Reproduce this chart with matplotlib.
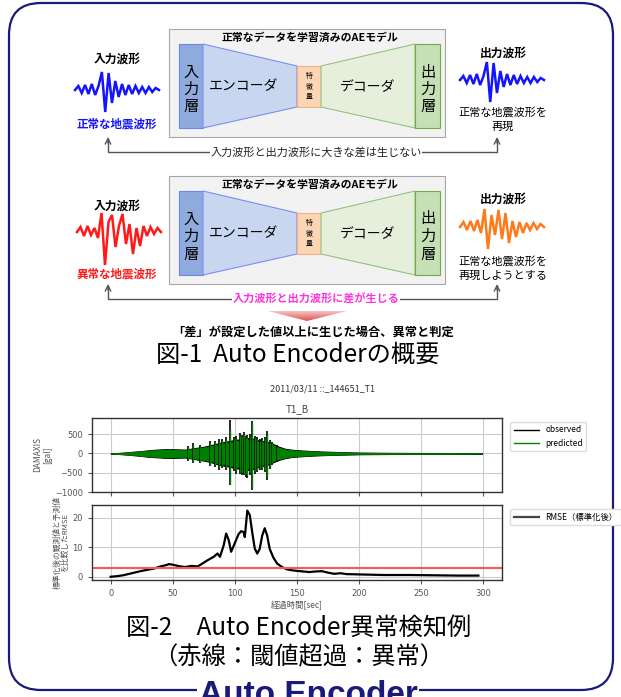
import numpy as np
import matplotlib
matplotlib.use('Agg')
import matplotlib.pyplot as plt
from matplotlib.patches import Rectangle, Polygon, FancyBboxPatch

plt.rcParams['font.family'] = ['Noto Sans CJK JP', 'DejaVu Sans']

# ---- data ----
# schematic waveform icons (vertical offsets, px, up positive)
wave_normal = [0, 4, -3, 5, -4, 6, -5, 4, 18, -22, 17, -13, 9, -7, 6, -5, 5, -4, 4, -3, 3, -3, 3, -2, 2, 0]
wave_abnormal = [0, 5, -4, 6, -3, 4, -6, 19, -33, 10, 17, -15, 6, 18, -12, 8, -22, 4, -14, 6, -4, 5, -2, 4, 0]
wave_recon = [0, 5, -3, 6, -4, 7, -6, 18, -22, 12, -8, 17, -12, 14, -16, 6, -10, 5, -6, 4, -3, 4, -2, 3, 0]

# observed / predicted acceleration envelope [gal]
env_t = [0, 5, 10, 15, 20, 25, 30, 35, 40, 45, 50, 55, 60, 65, 70, 75, 80, 85, 90, 95, 100,
         105, 110, 115, 120, 125, 130, 135, 140, 145, 150, 160, 170, 180, 190, 200, 225, 250, 275, 299]
obs_hi = [0, 10, 22, 35, 50, 62, 80, 95, 105, 110, 110, 105, 100, 125, 150, 175, 210, 250, 290, 320, 350,
          370, 400, 380, 330, 310, 260, 180, 125, 100, 85, 65, 50, 40, 30, 22, 15, 12, 10, 6]
obs_lo = [0, -10, -22, -35, -50, -65, -85, -95, -105, -115, -115, -110, -105, -130, -160, -185, -220, -270, -310, -340, -380,
          -400, -430, -400, -340, -310, -240, -170, -125, -95, -80, -60, -45, -35, -28, -20, -14, -11, -9, -6]
pred_hi = [0, 9, 20, 32, 45, 58, 72, 85, 95, 100, 100, 95, 92, 112, 135, 158, 190, 225, 260, 290, 315,
           335, 360, 345, 300, 280, 230, 158, 110, 88, 75, 58, 45, 36, 27, 20, 13, 10, 8, 0]
pred_lo = [0, -9, -20, -32, -45, -60, -78, -86, -95, -104, -104, -100, -95, -118, -145, -168, -200, -245, -280, -305, -345,
           -360, -390, -365, -305, -280, -215, -152, -112, -86, -72, -54, -41, -32, -25, -18, -12, -10, -8, 0]
spk_t = [62, 66, 72, 80, 84, 87, 90, 93, 96, 99, 101, 104, 106, 107, 109, 110, 112,
         114, 116, 118, 120, 122, 124, 126, 128, 130, 134]
spk_hi = [200, 270, 220, 320, 330, 370, 380, 420, 870, 420, 450, 520, 480, 560, 460, 480, 500,
          830, 450, 430, 380, 400, 420, 590, 360, 300, 220]
spk_lo = [-200, -260, -250, -330, -340, -420, -380, -440, -830, -450, -520, -520, -560, -560, -600, -640, -560,
          -950, -520, -480, -430, -440, -480, -700, -400, -300, -210]
pspk_hi = [170, 230, 200, 280, 290, 320, 330, 370, 640, 370, 390, 450, 420, 500, 400, 420, 440,
           820, 390, 380, 330, 350, 370, 500, 310, 260, 180]
pspk_lo = [-170, -230, -215, -290, -300, -360, -330, -390, -780, -400, -450, -470, -490, -520, -530, -560, -490,
           -900, -460, -420, -380, -390, -420, -600, -350, -260, -180]

# RMSE (standardised)
rmse_t = [0, 5, 10, 15, 20, 25, 30, 35, 40, 45, 47, 50, 55, 60, 65, 70, 72, 78, 83, 86, 88, 91, 93, 95, 97,
          100, 103, 105, 107, 108, 110, 112, 114, 116, 118, 120, 122, 124, 126, 128, 131, 134, 138, 142, 146,
          150, 155, 160, 165, 170, 175, 180, 185, 190, 200, 220, 240, 260, 280, 296]
rmse_v = [0, 0.2, 0.5, 1.0, 1.5, 2.0, 2.4, 2.8, 3.5, 4.0, 4.3, 4.1, 3.6, 3.3, 3.7, 3.5, 4.0, 5.6, 6.8, 7.9, 6.8, 10.7, 14.7, 12.5, 8.5,
          11.5, 14.5, 15.5, 15.2, 13.5, 22.5, 21.0, 15.0, 9.6, 7.9, 9.5, 14.0, 16.5, 14.0, 9.5, 6.5, 4.5, 3.3, 2.5, 2.2,
          2.0, 1.8, 1.6, 1.8, 1.9, 1.4, 1.0, 1.2, 0.9, 0.8, 0.6, 0.6, 0.5, 0.4, 0.4]
threshold = 3.0
xticks = [0, 50, 100, 150, 200, 250, 300]

navy = '#1a1a7a'

fig = plt.figure(figsize=(6.21, 6.97), dpi=100)
bg = fig.add_axes([0, 0, 1, 1])
bg.set_xlim(0, 621)
bg.set_ylim(697, 0)
bg.axis('off')

# outer rounded frame
bg.add_patch(FancyBboxPatch((9, 3), 604, 687, boxstyle='round,pad=0,rounding_size=32',
                            fc='none', ec=navy, lw=1.6, zorder=1))
bg.text(308, 704, 'Auto Encoder', family='Liberation Sans', weight='bold', fontsize=24,
        color=navy, ha='center', va='baseline', zorder=3,
        bbox=dict(fc='white', ec='none', pad=1))


def draw_model(oy):
    bg.add_patch(Rectangle((169, 29 + oy), 276, 108, fc='#f2f2f2', ec='#a6a6a6', lw=0.8))
    bg.text(310, 38 + oy, '正常なデータを学習済みのAEモデル', fontsize=7.8, weight='bold',
            ha='center', va='center')
    bg.add_patch(Rectangle((179, 44 + oy), 24, 84, fc='#8faadc', ec='#6c86e8', lw=0.8))
    bg.add_patch(Polygon([(203, 44 + oy), (297, 66 + oy), (297, 107 + oy), (203, 128 + oy)],
                         fc='#c9d6f0', ec='#7b8ff0', lw=0.8))
    bg.add_patch(Rectangle((297, 66 + oy), 24, 41, fc='#fcd5b4', ec='#f4b183', lw=0.8))
    bg.add_patch(Polygon([(321, 66 + oy), (415, 44 + oy), (415, 128 + oy), (321, 107 + oy)],
                         fc='#e6eedc', ec='#93c47d', lw=0.8))
    bg.add_patch(Rectangle((415, 44 + oy), 25, 84, fc='#c5e0b4', ec='#70ad47', lw=0.8))
    for i, ch in enumerate('入力層'):
        bg.text(191, 72 + oy + 17.5 * i, ch, fontsize=11, ha='center', va='center')
    for i, ch in enumerate('出力層'):
        bg.text(428, 72 + oy + 17.5 * i, ch, fontsize=11, ha='center', va='center')
    for i, ch in enumerate('特徴量'):
        bg.text(309, 76 + oy + 10.5 * i, ch, fontsize=5, ha='center', va='center')
    bg.text(243, 86 + oy, 'エンコーダ', fontsize=10, ha='center', va='center')
    bg.text(368, 87 + oy, 'デコーダ', fontsize=10, ha='center', va='center')


def draw_wave(vals, x0, x1, yc, color):
    xs = np.linspace(x0, x1, len(vals))
    bg.plot(xs, [yc - v for v in vals], color=color, lw=1.8, solid_joinstyle='miter')


def draw_link(y, ytip, text, color, weight):
    bg.plot([108, 108, 497, 497], [ytip + 2, y, y, ytip + 2], color='#555555', lw=1)
    for x in (108, 497):
        bg.annotate('', xy=(x, ytip), xytext=(x, ytip + 6),
                    arrowprops=dict(arrowstyle='->', color='#555555', lw=1,
                                    shrinkA=0, shrinkB=0))
    bg.text(316, y, text, fontsize=8, color=color, weight=weight, ha='center', va='center',
            bbox=dict(fc='white', ec='none', pad=0.5))


# --- normal case ---
draw_model(0)
bg.text(117, 59, '入力波形', fontsize=8.5, weight='bold', ha='center', va='center')
draw_wave(wave_normal, 75, 159, 90, '#1414ff')
bg.text(117, 124, '正常な地震波形', fontsize=8.3, weight='bold', color='#1414ff',
        ha='center', va='center')
bg.text(503, 53, '出力波形', fontsize=8.5, weight='bold', ha='center', va='center')
draw_wave(wave_normal, 460, 544, 80, '#1414ff')
bg.text(503, 112, '正常な地震波形を', fontsize=8, ha='center', va='center')
bg.text(503, 127, '再現', fontsize=8, ha='center', va='center')
draw_link(152, 137, '入力波形と出力波形に大きな差は生じない', '#222222', 'normal')

# --- abnormal case ---
draw_model(147)
bg.text(117, 206, '入力波形', fontsize=8.5, weight='bold', ha='center', va='center')
draw_wave(wave_abnormal, 77, 161, 232, '#ff1a1a')
bg.text(117, 274, '異常な地震波形', fontsize=8.3, weight='bold', color='#ff1a1a',
        ha='center', va='center')
bg.text(503, 199, '出力波形', fontsize=8.5, weight='bold', ha='center', va='center')
draw_wave(wave_recon, 460, 544, 227, '#ff7a1a')
bg.text(503, 261, '正常な地震波形を', fontsize=8, ha='center', va='center')
bg.text(503, 276, '再現しようとする', fontsize=8, ha='center', va='center')
draw_link(299, 284, '入力波形と出力波形に差が生じる', '#ff33dd', 'bold')

# gradient down-arrow
arrow = Polygon([(268, 311), (347, 311), (307, 321)], fc='none', ec='none')
bg.add_patch(arrow)
grad = np.linspace(0, 1, 50).reshape(-1, 1)
im = bg.imshow(grad, extent=(268, 347, 322, 310), cmap=matplotlib.colors.LinearSegmentedColormap.from_list(
    'g', ['#fbd0d0', '#d84848']), aspect='auto', zorder=2)
im.set_clip_path(arrow)
bg.set_xlim(0, 621)
bg.set_ylim(697, 0)

bg.text(313, 332, '「差」が設定した値以上に生じた場合、異常と判定', fontsize=8.8, weight='bold',
        ha='center', va='center')
bg.text(298, 355, '図-1  Auto Encoderの概要', fontsize=17.5, ha='center', va='center')

# --- chart ---
fig.text(323 / 621, 1 - 389 / 697, '2011/03/11 ::_144651_T1', fontsize=6.5, color='#333333',
         ha='center', va='center')

ax1 = fig.add_axes([92 / 621, 1 - 492 / 697, 410 / 621, 74 / 697])
ax2 = fig.add_axes([92 / 621, 1 - 580 / 697, 410 / 621, 75 / 697], sharex=ax1)

ax1.fill_between(env_t, obs_lo, obs_hi, color='black', lw=0.8)
ax1.vlines(spk_t, spk_lo, spk_hi, color='black', lw=1.2)
ax1.fill_between(env_t, pred_lo, pred_hi, color='#008000', lw=0.5)
ax1.vlines(spk_t, pspk_lo, pspk_hi, color='#008000', lw=1.0)
ax1.plot([], [], color='black', lw=1, label='observed')
ax1.plot([], [], color='#008000', lw=1, label='predicted')
ax1.set_ylim(-1000, 920)
ax1.set_yticks([-1000, -500, 0, 500])
ax1.set_title('T1_B', fontsize=7, color='#444444', pad=4)
ax1.set_ylabel('DAMAXIS\n[gal]', fontsize=6, color='#555555', labelpad=2)
ax1.legend(loc='upper left', bbox_to_anchor=(1.01, 1.0), fontsize=6,
           framealpha=1, edgecolor='#dddddd', handlelength=3)
plt.setp(ax1.get_xticklabels(), visible=False)

ax2.plot(rmse_t, rmse_v, color='black', lw=1.6, label='RMSE（標準化後）')
ax2.axhline(threshold, color='#ff5555', lw=1.5)
ax2.set_ylim(-1.1, 24.4)
ax2.set_yticks([0, 10, 20])
ax2.set_xlim(-15, 315)
ax2.set_xticks(xticks)
ax2.set_xlabel('経過時間[sec]', fontsize=6, color='#555555', labelpad=2)
ax2.set_ylabel('標準化後の観測値と予測値\nを比較したRMSE', fontsize=5.6, color='#555555',
               labelpad=2, linespacing=1.0)
leg = ax2.legend(loc='upper left', bbox_to_anchor=(1.01, 1.0), fontsize=6,
                 framealpha=1, edgecolor='#dddddd', handlelength=3)
leg.get_lines()[0].set_color('#444444')

for ax in (ax1, ax2):
    ax.grid(True, color='#cccccc', lw=0.8)
    ax.set_axisbelow(True)
    ax.tick_params(labelsize=6, colors='#555555', length=3, width=0.8)
    for lab in ax.get_yticklabels() + ax.get_xticklabels():
        lab.set_family('DejaVu Sans')
    for s in ax.spines.values():
        s.set_color('#333333')
        s.set_linewidth(1)

bg.text(299, 628, '図-2　Auto Encoder異常検知例', fontsize=17.5, ha='center', va='center')
bg.text(299, 657, '（赤線：閾値超過：異常）', fontsize=17.5, ha='center', va='center')

fig.savefig('out.png', dpi=100)
